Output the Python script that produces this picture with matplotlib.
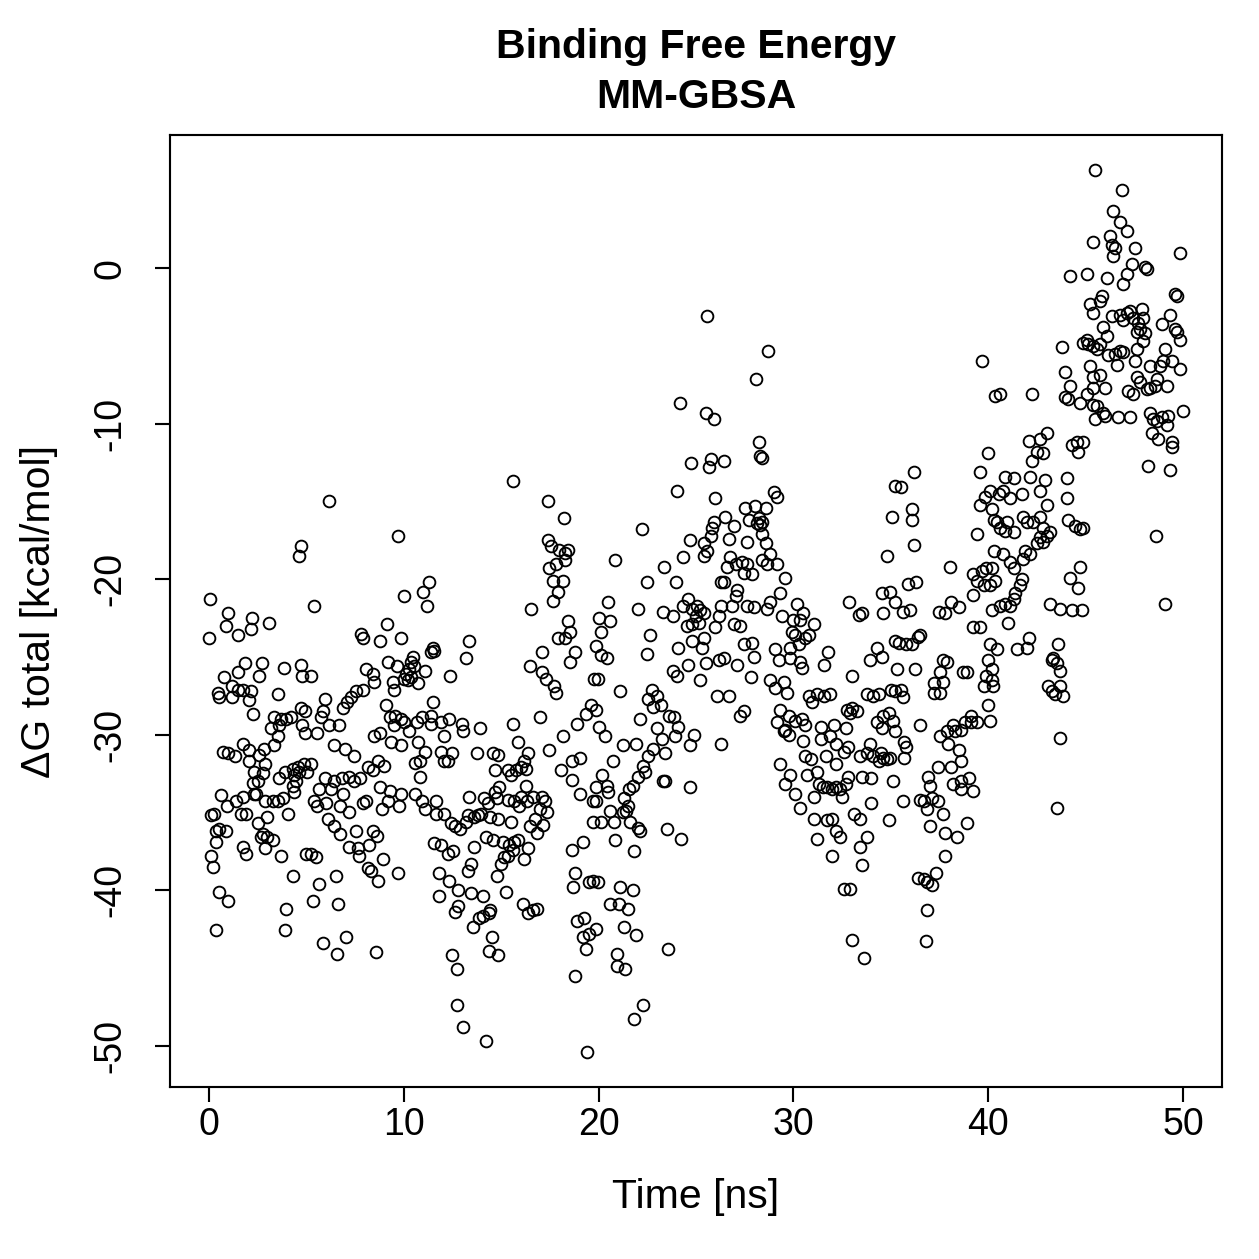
import matplotlib
matplotlib.use('Agg')
import matplotlib.pyplot as plt
import numpy as np

plt.rcParams['font.family'] = ['Liberation Sans', 'DejaVu Sans']
plt.rcParams['axes.unicode_minus'] = False

# (time [ns], dG total [kcal/mol]), one list per ~5 ns
seg_00_05 = [
    (4.7, -17.9), (4.6, -18.5), (0.05, -21.3), (0.97, -22.2), (0.9, -23.0), (1.5, -23.6), (2.2, -22.5),
    (2.15, -23.2), (3.1, -22.8), (0.0, -23.8), (1.85, -25.4), (2.7, -25.4), (2.55, -26.2), (3.85, -25.7),
    (4.7, -25.5), (4.8, -26.2), (0.75, -26.3), (1.5, -26.0), (0.45, -27.3), (1.2, -26.9), (1.5, -27.1),
    (1.75, -27.1), (2.15, -27.2), (0.5, -27.6), (1.2, -27.6), (2.05, -27.8), (3.55, -27.4), (2.25, -28.7),
    (4.7, -28.3), (3.35, -28.9), (3.7, -29.0), (3.95, -29.0), (4.2, -28.9), (3.2, -29.6), (3.6, -29.4),
    (4.8, -29.4), (0.7, -31.1), (1.0, -31.2), (1.35, -31.4), (1.75, -30.6), (2.05, -31.0), (2.55, -31.3),
    (2.8, -30.9), (3.35, -30.7), (3.55, -30.1), (2.05, -31.7), (2.9, -31.9), (2.3, -32.4), (2.75, -32.5),
    (2.25, -33.1), (2.5, -33.0), (2.4, -33.8), (3.6, -32.8), (3.9, -32.4), (4.3, -32.2), (4.55, -32.1),
    (4.6, -32.4), (4.35, -32.6), (4.45, -33.0), (4.3, -33.3), (4.35, -33.7), (4.9, -31.9), (0.6, -33.9),
    (0.95, -34.6), (1.4, -34.3), (1.75, -34.0), (2.3, -33.8), (2.9, -34.3), (3.3, -34.3), (3.55, -34.3),
    (3.8, -34.1), (0.1, -35.2), (0.25, -35.1), (1.65, -35.1), (1.9, -35.1), (3.0, -35.3), (4.05, -35.1),
    (0.5, -36.1), (0.85, -36.2), (0.35, -36.2), (2.5, -35.7), (2.75, -36.4), (2.65, -36.6), (3.0, -36.6),
    (3.3, -36.8), (2.9, -37.3), (0.35, -36.9), (1.75, -37.2), (1.9, -37.7), (3.7, -37.8), (0.1, -37.8),
    (0.2, -38.5), (5.0, -37.7), (4.3, -39.1), (0.5, -40.1), (1.0, -40.7), (3.95, -41.2), (0.35, -42.6),
    (3.9, -42.6),
]
seg_05_10 = [
    (6.15, -15.0), (9.7, -17.2), (5.4, -21.7), (9.15, -22.9), (7.8, -23.5), (7.9, -23.8), (8.8, -24.0),
    (9.85, -23.8), (10.0, -21.1), (5.25, -26.2), (8.05, -25.8), (8.4, -26.1), (8.45, -26.6), (9.2, -25.3),
    (9.65, -25.6), (9.45, -26.6), (9.5, -27.1), (10.0, -26.4), (5.95, -27.7), (7.9, -27.1), (7.55, -27.2),
    (7.3, -27.6), (7.1, -27.9), (6.9, -28.3), (4.95, -28.5), (5.75, -28.9), (5.85, -28.5), (9.1, -28.1),
    (9.3, -28.9), (9.55, -28.8), (9.85, -29.0), (9.5, -29.4), (4.95, -29.9), (5.55, -29.9), (6.15, -29.4),
    (6.65, -29.4), (8.45, -30.1), (8.8, -29.9), (9.35, -30.5), (9.85, -30.7), (6.4, -30.7), (7.0, -30.9),
    (7.45, -31.4), (5.25, -31.9), (5.05, -32.4), (8.15, -32.1), (8.4, -32.3), (8.7, -31.7), (9.0, -32.0),
    (5.95, -32.8), (6.4, -33.0), (6.85, -32.8), (7.2, -32.7), (7.45, -33.0), (7.75, -32.8), (5.65, -33.5),
    (6.25, -33.5), (6.9, -33.8), (8.8, -33.4), (9.3, -33.6), (9.85, -33.8), (5.4, -34.3), (5.55, -34.6),
    (6.0, -34.4), (6.75, -34.6), (7.2, -35.0), (7.9, -34.4), (8.05, -34.3), (8.9, -34.8), (9.2, -34.3),
    (9.75, -34.6), (6.1, -35.4), (6.4, -35.9), (6.75, -36.4), (7.55, -36.2), (7.2, -37.2), (7.65, -37.3),
    (7.7, -37.8), (8.4, -36.2), (8.65, -36.5), (8.2, -37.1), (5.25, -37.7), (5.5, -37.9), (8.95, -38.0),
    (8.15, -38.6), (8.3, -38.8), (8.7, -39.4), (9.7, -38.9), (6.5, -39.1), (5.65, -39.6), (5.35, -40.7),
    (6.6, -40.9), (5.85, -43.4), (7.05, -43.0), (6.55, -44.1), (8.55, -44.0),
]
seg_10_15 = [
    (11.3, -20.2), (11.0, -20.8), (11.2, -21.7), (11.5, -24.4), (11.55, -24.6), (11.4, -24.7),
    (13.35, -24.0), (13.2, -25.1), (10.45, -25.0), (10.35, -25.3), (10.5, -25.6), (10.25, -25.8),
    (10.1, -26.1), (10.35, -26.3), (10.2, -26.5), (10.75, -26.7), (11.1, -25.9), (12.35, -26.2),
    (11.5, -27.9), (10.0, -29.2), (10.7, -29.2), (10.95, -28.9), (11.4, -28.8), (11.9, -29.2),
    (12.3, -29.0), (13.0, -29.3), (13.05, -29.8), (13.9, -29.6), (10.25, -29.8), (11.4, -29.3),
    (12.05, -30.1), (10.75, -30.5), (11.1, -31.1), (10.85, -31.7), (10.6, -31.8), (11.9, -31.1),
    (12.05, -31.7), (12.25, -31.7), (12.5, -31.2), (13.75, -31.2), (14.6, -31.2), (14.7, -32.3),
    (10.85, -32.7), (10.6, -33.8), (10.95, -34.3), (11.1, -34.8), (11.65, -34.3), (11.65, -35.1),
    (12.05, -35.1), (12.4, -35.7), (12.65, -35.9), (12.9, -36.1), (13.2, -35.6), (13.35, -34.0),
    (13.6, -35.3), (13.95, -35.1), (14.1, -34.1), (14.3, -34.4), (14.45, -35.3), (14.7, -33.7),
    (14.85, -35.4), (14.8, -34.1), (13.3, -35.2), (13.8, -35.2), (14.2, -36.6), (14.6, -36.8),
    (11.55, -37.0), (11.9, -37.1), (12.25, -37.7), (12.55, -37.5), (13.6, -37.2), (11.8, -38.9),
    (12.3, -39.4), (13.45, -38.3), (13.3, -38.8), (14.8, -39.1), (11.8, -40.4), (12.8, -40.0),
    (13.45, -40.2), (14.05, -40.4), (12.8, -41.0), (12.65, -41.4), (13.55, -42.4), (13.85, -41.8),
    (14.05, -41.7), (14.35, -41.5), (14.45, -41.3), (14.55, -43.0), (14.35, -43.9), (14.85, -44.2),
    (12.5, -44.2), (12.75, -45.1), (12.75, -47.4), (13.05, -48.8), (14.2, -49.7),
]
seg_15_20 = [
    (15.6, -13.7), (17.4, -15.0), (18.2, -16.1), (17.4, -17.5), (17.55, -17.9), (17.95, -18.1),
    (18.3, -18.3), (18.45, -18.1), (18.3, -18.8), (17.8, -19.0), (17.45, -19.3), (17.65, -20.1),
    (18.15, -20.1), (17.9, -20.8), (17.65, -21.4), (16.55, -21.9), (18.45, -22.7), (18.55, -23.4),
    (18.3, -23.8), (17.9, -23.8), (18.8, -24.7), (18.55, -25.3), (20.0, -22.5), (19.85, -24.3),
    (20.1, -24.9), (17.1, -24.7), (16.5, -25.6), (17.1, -26.0), (17.3, -26.4), (17.7, -26.9),
    (17.8, -27.3), (19.75, -26.4), (19.6, -28.1), (19.85, -28.4), (19.35, -28.7), (18.9, -29.3),
    (17.0, -28.9), (15.6, -29.3), (18.15, -30.1), (17.45, -31.0), (15.85, -30.5), (16.4, -31.2),
    (16.15, -31.7), (16.25, -32.2), (18.65, -31.7), (19.05, -31.5), (18.05, -32.3), (18.65, -32.9),
    (19.05, -33.8), (19.7, -34.3), (19.85, -33.4), (19.7, -35.6), (14.85, -31.3), (15.35, -32.3),
    (15.5, -32.6), (15.75, -32.3), (16.0, -32.1), (16.25, -33.3), (14.9, -33.4), (15.35, -34.2),
    (15.65, -34.3), (16.0, -34.0), (16.35, -34.3), (16.65, -34.0), (17.1, -34.0), (17.25, -34.3),
    (17.0, -34.8), (17.35, -35.0), (16.75, -35.4), (16.5, -35.9), (16.85, -36.3), (17.15, -35.8),
    (15.9, -34.6), (15.5, -35.6), (15.1, -36.9), (15.4, -37.1), (15.65, -36.9), (15.85, -36.8),
    (15.6, -37.4), (15.35, -37.8), (15.0, -38.3), (15.15, -37.9), (16.15, -38.0), (16.4, -37.3),
    (15.25, -40.1), (16.1, -40.9), (16.4, -41.5), (16.65, -41.3), (16.85, -41.2), (18.65, -37.4),
    (19.2, -36.9), (18.8, -38.9), (18.7, -39.8), (19.5, -39.5), (19.7, -39.4), (18.9, -42.0),
    (19.25, -41.8), (19.2, -43.0), (19.5, -42.8), (19.35, -43.8), (19.85, -42.5), (18.8, -45.5),
    (19.4, -50.4),
]
seg_20_25 = [
    (22.25, -16.8), (24.7, -17.5), (24.35, -18.6), (23.35, -19.2), (20.85, -18.8), (22.5, -20.2),
    (23.95, -20.2), (20.5, -21.5), (22.0, -21.9), (23.3, -22.1), (23.8, -22.4), (24.35, -21.7),
    (24.6, -21.3), (24.8, -21.9), (24.55, -23.0), (20.6, -22.7), (20.1, -23.4), (20.45, -25.1),
    (22.65, -23.6), (22.5, -24.8), (24.1, -24.4), (24.8, -24.0), (24.6, -25.5), (23.8, -25.9),
    (24.05, -26.2), (19.95, -26.4), (21.1, -27.2), (22.15, -29.0), (22.75, -27.1), (22.55, -27.7),
    (23.0, -27.5), (22.8, -28.2), (23.2, -28.1), (23.6, -28.8), (23.85, -28.9), (24.1, -29.5),
    (23.0, -29.6), (23.25, -30.3), (23.9, -30.1), (22.8, -30.9), (23.4, -31.2), (24.7, -30.7),
    (20.0, -29.5), (20.35, -30.1), (21.25, -30.7), (21.9, -30.6), (20.75, -31.7), (22.55, -31.4),
    (22.3, -32.0), (22.4, -32.4), (22.0, -32.7), (21.75, -33.3), (21.55, -33.5), (21.3, -34.1),
    (21.5, -34.6), (21.4, -34.9), (21.25, -35.0), (20.8, -35.6), (20.2, -32.6), (20.45, -33.3),
    (20.5, -33.7), (19.85, -34.3), (20.1, -35.6), (20.6, -34.9), (21.6, -35.6), (22.0, -36.0),
    (22.1, -36.2), (23.4, -33.0), (23.3, -33.0), (24.7, -33.4), (20.85, -36.8), (21.8, -37.5),
    (23.5, -36.1), (24.25, -36.7), (19.95, -39.5), (21.1, -39.8), (21.75, -40.0), (20.6, -40.9),
    (21.05, -40.9), (21.5, -41.2), (21.3, -42.4), (21.9, -42.9), (20.95, -44.1), (20.95, -44.9),
    (21.35, -45.1), (23.55, -43.8), (22.3, -47.4), (21.8, -48.3), (24.2, -8.7), (24.05, -14.3),
]
seg_25_30 = [
    (25.57, -3.1), (28.69, -5.3), (28.1, -7.1), (25.49, -9.3), (25.92, -9.7), (28.22, -11.2),
    (28.31, -12.1), (28.4, -12.2), (24.72, -12.5), (25.75, -12.3), (25.66, -12.8), (26.43, -12.4),
    (26.0, -14.8), (28.99, -14.4), (29.16, -14.7), (27.54, -15.4), (28.05, -15.3), (28.57, -15.4),
    (28.22, -16.1), (28.4, -16.3), (28.31, -16.5), (28.14, -16.4), (27.71, -16.2), (25.92, -16.3),
    (25.83, -16.7), (25.75, -17.2), (25.4, -17.7), (25.57, -18.2), (25.4, -18.5), (26.51, -16.0),
    (26.94, -16.6), (26.69, -17.4), (27.63, -17.6), (28.4, -17.1), (28.57, -17.7), (28.4, -18.8),
    (28.82, -18.4), (29.16, -19.0), (28.65, -19.0), (29.59, -19.9), (26.77, -18.6), (26.6, -19.2),
    (27.03, -19.0), (27.37, -18.9), (27.63, -19.0), (27.45, -19.6), (27.88, -19.7), (26.26, -20.2),
    (26.43, -20.2), (27.11, -20.7), (27.03, -21.1), (26.86, -21.7), (26.26, -21.7), (27.63, -21.7),
    (27.97, -21.8), (28.65, -21.9), (28.82, -21.5), (29.33, -20.9), (29.42, -22.4), (25.06, -21.7),
    (25.23, -22.0), (24.98, -22.4), (25.15, -22.8), (24.8, -22.9), (25.4, -22.2), (26.17, -22.4),
    (26.0, -23.1), (26.94, -22.9), (27.28, -23.0), (27.45, -24.2), (27.88, -24.1), (27.97, -25.0),
    (29.08, -24.5), (29.25, -25.2), (29.85, -25.1), (25.4, -23.8), (25.32, -24.4), (25.49, -25.4),
    (26.17, -25.2), (26.43, -25.1), (27.11, -25.5), (25.23, -26.5), (27.8, -26.3), (28.82, -26.5),
    (29.08, -27.0), (29.5, -26.6), (29.68, -27.3), (26.09, -27.5), (26.69, -27.5), (27.28, -28.8),
    (27.45, -28.5), (29.33, -28.4), (29.76, -28.8), (29.16, -29.2), (29.59, -29.7), (29.76, -30.0),
    (29.5, -29.8), (24.9, -30.0), (26.26, -30.6), (29.33, -31.9), (29.85, -32.6), (29.59, -33.2),
    (30.1, -33.8),
]
seg_30_35 = [
    (35.2, -14.0), (35.06, -16.0), (34.8, -18.5), (34.55, -20.9), (34.98, -20.8), (34.6, -22.2),
    (35.2, -21.5), (32.84, -21.5), (33.35, -22.3), (33.5, -22.2), (30.2, -21.6), (30.5, -22.2),
    (30.0, -22.6), (30.36, -22.6), (31.05, -22.9), (30.1, -23.6), (30.6, -23.8), (30.8, -23.6),
    (29.94, -23.4), (30.3, -24.2), (29.85, -24.4), (30.36, -25.3), (30.45, -25.7), (31.8, -24.7),
    (31.56, -25.5), (34.3, -24.4), (34.55, -25.0), (33.95, -25.2), (35.2, -24.0), (33.0, -26.2),
    (30.8, -27.5), (30.96, -27.9), (31.2, -27.4), (31.56, -27.5), (31.9, -27.4), (33.8, -27.4),
    (34.1, -27.5), (34.4, -27.4), (35.0, -27.1), (35.2, -27.2), (32.75, -28.4), (33.0, -28.3),
    (33.27, -28.5), (32.9, -28.6), (34.3, -29.2), (34.6, -28.8), (34.9, -28.6), (34.55, -29.6),
    (30.1, -29.1), (30.45, -29.0), (30.6, -29.4), (31.4, -29.5), (32.1, -29.4), (32.7, -29.6),
    (30.5, -30.4), (30.6, -31.4), (30.9, -31.6), (31.4, -30.3), (31.9, -30.1), (32.2, -30.6),
    (32.6, -31.1), (32.8, -30.8), (33.4, -31.4), (33.95, -30.6), (33.8, -31.2), (34.1, -31.4),
    (34.4, -31.7), (34.6, -31.5), (34.8, -31.6), (34.5, -31.2), (31.65, -31.4), (32.2, -31.9),
    (30.7, -32.6), (31.2, -32.4), (31.3, -33.2), (31.5, -33.4), (31.7, -33.4), (32.0, -33.5),
    (32.2, -33.4), (32.4, -33.5), (32.7, -33.2), (32.8, -32.7), (32.5, -34.0), (31.05, -34.0),
    (33.5, -32.7), (34.0, -32.8), (35.1, -33.0), (30.36, -34.7), (31.05, -35.4), (31.7, -35.5),
    (32.0, -35.4), (32.2, -36.2), (32.4, -36.6), (31.2, -36.7), (32.0, -37.8), (34.0, -34.4),
    (33.1, -35.1), (33.4, -35.4), (33.8, -36.6), (33.4, -37.2), (33.5, -38.4), (34.9, -35.5),
    (32.6, -39.9), (32.9, -39.9), (33.0, -43.2), (33.6, -44.4),
]
seg_35_40 = [
    (39.67, -6.0), (40.35, -8.2), (40.0, -11.9), (39.6, -13.1), (39.84, -14.7), (39.6, -15.2),
    (40.2, -15.5), (40.3, -16.2), (39.4, -17.1), (40.3, -18.2), (36.17, -13.1), (35.5, -14.1),
    (36.1, -15.5), (36.1, -16.2), (36.2, -17.8), (38.05, -19.2), (39.2, -19.7), (39.4, -20.1),
    (39.7, -19.5), (39.9, -19.3), (39.8, -20.4), (39.2, -21.0), (40.2, -22.0), (35.9, -20.3),
    (36.3, -20.2), (35.6, -22.1), (36.0, -22.0), (37.45, -22.1), (37.8, -22.2), (38.1, -21.5),
    (38.5, -21.8), (39.2, -23.1), (39.6, -23.1), (35.4, -24.1), (35.8, -24.2), (36.1, -24.2),
    (36.4, -23.7), (36.5, -23.6), (37.7, -25.2), (37.9, -25.3), (37.5, -26.0), (37.7, -26.6),
    (37.2, -26.7), (37.2, -27.3), (37.5, -27.3), (38.7, -26.0), (38.9, -26.0), (40.0, -25.2),
    (39.9, -26.2), (39.8, -26.9), (40.0, -28.1), (40.1, -29.1), (35.3, -25.8), (36.25, -25.8),
    (35.5, -27.1), (35.65, -27.6), (35.1, -29.1), (35.2, -29.8), (36.5, -29.4), (37.5, -30.1),
    (37.9, -29.8), (38.2, -29.4), (38.3, -29.8), (38.6, -29.7), (38.8, -29.2), (39.1, -28.8),
    (39.4, -29.2), (39.1, -29.2), (35.7, -30.5), (35.8, -30.8), (35.7, -31.5), (34.97, -31.5),
    (37.96, -30.6), (38.5, -31.0), (37.4, -32.1), (38.1, -32.1), (38.6, -31.7), (36.9, -32.7),
    (37.0, -33.3), (38.2, -33.2), (38.6, -33.0), (39.0, -32.8), (39.2, -33.6), (38.6, -33.5),
    (35.65, -34.3), (36.5, -34.2), (36.7, -34.3), (36.85, -34.8), (37.1, -34.1), (37.4, -34.3),
    (37.7, -35.1), (37.0, -35.9), (37.8, -36.3), (38.4, -36.6), (38.9, -35.7), (37.8, -37.8),
    (36.4, -39.2), (36.7, -39.3), (36.85, -39.5), (37.1, -39.7), (37.3, -38.9), (36.85, -41.3),
    (36.8, -43.3),
]
seg_40_45 = [
    (45.48, 6.3), (45.4, 1.7), (44.2, -0.5), (45.06, -0.4), (45.4, -2.9), (45.06, -4.6), (45.14, -4.9),
    (45.4, -5.0), (44.89, -4.8), (43.77, -5.1), (45.23, -6.3), (45.4, -7.0), (43.95, -6.7), (44.2, -7.6),
    (43.95, -8.3), (44.12, -8.4), (44.71, -8.7), (45.06, -8.1), (45.4, -8.8), (40.61, -8.1), (42.24, -8.1),
    (42.07, -11.1), (42.66, -11.0), (43.0, -10.6), (42.49, -11.8), (42.24, -12.4), (42.83, -11.9),
    (44.29, -11.4), (44.54, -11.2), (44.89, -11.2), (44.63, -11.8), (44.03, -13.5), (44.03, -14.8),
    (40.87, -13.4), (41.3, -13.5), (42.15, -13.4), (42.92, -13.6), (40.1, -14.3), (40.53, -14.5),
    (40.78, -14.3), (41.13, -14.8), (41.72, -14.5), (42.66, -14.3), (43.0, -15.2), (40.44, -16.3),
    (40.61, -16.7), (40.87, -16.9), (40.95, -16.3), (41.3, -17.0), (41.81, -16.0), (41.98, -16.3),
    (42.32, -16.3), (42.66, -16.0), (42.83, -16.7), (44.12, -16.2), (44.46, -16.6), (44.71, -16.8),
    (44.89, -16.7), (42.66, -17.3), (42.83, -17.6), (43.0, -17.2), (43.18, -17.0), (42.49, -17.7),
    (40.78, -18.4), (41.13, -18.9), (41.89, -18.2), (41.81, -18.7), (42.15, -18.4), (40.19, -19.3),
    (40.36, -20.1), (41.3, -19.3), (41.72, -20.0), (41.64, -20.4), (41.38, -20.9), (41.3, -21.3),
    (41.13, -21.7), (40.87, -21.6), (40.61, -21.7), (41.04, -22.8), (40.1, -20.4), (44.71, -19.2),
    (44.2, -19.9), (44.63, -20.6), (43.18, -21.6), (43.69, -21.9), (44.29, -22.0), (44.8, -22.0),
    (40.1, -24.2), (40.44, -24.5), (41.47, -24.5), (42.07, -23.8), (41.98, -24.4), (40.19, -25.8),
    (40.19, -26.5), (40.27, -26.9), (43.6, -24.2), (43.26, -25.2), (43.35, -25.1), (43.52, -25.4),
    (43.69, -25.9), (43.09, -26.9), (43.26, -27.2), (43.43, -27.4), (43.69, -26.9), (43.86, -27.5),
    (43.69, -30.2), (43.52, -34.7),
]
seg_45_50 = [
    (46.85, 5.0), (46.43, 3.7), (46.77, 3.0), (47.11, 2.4), (46.26, 2.1), (46.34, 1.5), (46.51, 1.3),
    (46.43, 0.8), (47.54, 1.3), (49.84, 1.0), (48.05, 0.05), (48.14, -0.06), (47.37, 0.26),
    (47.11, -0.39), (46.94, -1.03), (46.08, -0.6), (45.83, -1.8), (45.74, -2.1), (45.23, -2.3),
    (49.59, -1.67), (49.67, -1.8), (46.34, -3.1), (46.77, -3.0), (47.11, -2.85), (47.28, -2.75),
    (47.45, -3.2), (46.94, -3.3), (47.71, -3.5), (47.88, -2.6), (47.96, -3.2), (47.79, -3.9),
    (48.05, -4.2), (47.62, -4.1), (47.96, -4.7), (48.9, -3.6), (49.33, -3.0), (49.59, -3.9),
    (49.67, -4.1), (49.84, -4.6), (45.91, -3.8), (46.08, -4.35), (45.74, -4.9), (45.57, -5.2),
    (46.17, -5.6), (46.51, -5.5), (46.77, -5.3), (46.94, -5.4), (46.6, -6.2), (47.62, -5.2),
    (47.54, -6.0), (48.31, -6.3), (48.82, -6.3), (49.08, -5.2), (48.99, -6.0), (49.42, -6.0),
    (49.84, -6.5), (45.74, -6.9), (45.4, -7.7), (46.0, -7.7), (47.2, -7.9), (47.45, -8.1),
    (47.62, -7.0), (47.79, -7.35), (48.14, -7.8), (48.31, -7.7), (48.56, -7.6), (48.65, -7.1),
    (49.16, -7.6), (45.57, -8.85), (45.91, -9.3), (46.0, -9.5), (45.49, -9.7), (46.68, -9.6),
    (47.28, -9.6), (48.31, -9.3), (48.48, -9.7), (48.65, -9.8), (48.9, -9.6), (49.25, -9.5),
    (48.39, -10.6), (48.73, -11.0), (49.42, -11.2), (49.42, -11.5), (49.16, -10.1), (50.0, -9.2),
    (48.22, -12.7), (49.33, -13.0), (48.61, -17.2), (49.08, -21.6),
]

segments = [seg_00_05, seg_05_10, seg_10_15, seg_15_20, seg_20_25,
            seg_25_30, seg_30_35, seg_35_40, seg_40_45, seg_45_50]
time = np.array([p[0] for seg in segments for p in seg])
dg = np.array([p[1] for seg in segments for p in seg])

x_ticks = [0, 10, 20, 30, 40, 50]
y_ticks = [-50, -40, -30, -20, -10, 0]

W = H = 1259
dpi = 180
fig = plt.figure(figsize=(W / dpi, H / dpi), dpi=dpi)
fig.patch.set_facecolor('white')
ax = fig.add_axes([170 / W, 1 - 1087 / H, (1222 - 170) / W, (1087 - 135) / H])

ax.plot(time, dg, linestyle='none', marker='o', ms=4.7,
        mfc='none', mec='black', mew=0.75)

# R-style 4% axis padding
xr = time.max() - time.min()
yr = dg.max() - dg.min()
ax.set_xlim(time.min() - 0.04 * xr, time.max() + 0.04 * xr)
ax.set_ylim(dg.min() - 0.04 * yr, dg.max() + 0.04 * yr)

ax.set_xticks(x_ticks)
ax.set_xticklabels([str(v) for v in x_ticks])
ax.set_yticks(y_ticks)
ax.set_yticklabels([str(v) for v in y_ticks], rotation=90, va='center')

for s in ax.spines.values():
    s.set_linewidth(0.85)
ax.tick_params(axis='both', direction='out', length=6, width=0.85, labelsize=15)
ax.tick_params(axis='x', pad=2)
ax.tick_params(axis='y', pad=10.5)

ax.set_xlabel('Time [ns]', fontsize=16.4, labelpad=14)
ax.set_ylabel('ΔG total [kcal/mol]', fontsize=16.4, labelpad=14)
ax.set_title('Binding Free Energy\nMM-GBSA', fontsize=16.4, fontweight='bold',
             linespacing=1.4, pad=11)

fig.savefig('out.png', dpi=dpi)
